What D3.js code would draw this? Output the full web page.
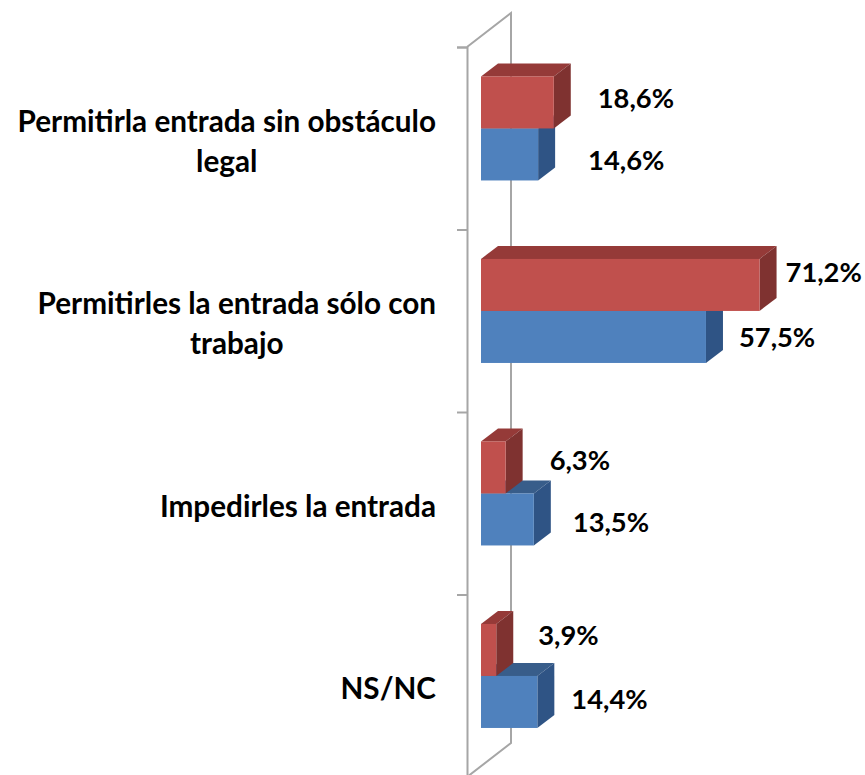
<!DOCTYPE html>
<html>
<head>
<meta charset="utf-8">
<script src="https://cdn.jsdelivr.net/npm/d3@7"></script>
<style>
  html, body { margin: 0; background: #fff; }
  text { font-family: Lato, "Open Sans", sans-serif; font-weight: bold; fill: #000; }
</style>
</head>
<body>
<div id="wrapper"></div>
<script>
const categories = [
  ["Permitirla entrada sin obstáculo", "legal"],
  ["Permitirles la entrada sólo con", "trabajo"],
  ["Impedirles la entrada"],
  ["NS/NC"]
]
const seriesNames = ["rojo", "azul"]
const rojoValues = [18.6, 71.2, 6.3, 3.9]
const azulValues = [14.6, 57.5, 13.5, 14.4]

async function drawBars() {
  // 1. data
  const rows = categories.map((lines, i) => ({
    i,
    lines,
    rojo: rojoValues[i],
    azul: azulValues[i]
  }))
  const formatValue = d => d.toFixed(1).replace(".", ",") + "%"

  // 2. dimensions
  const dimensions = {
    width: 865,
    height: 775,
    wallX: 467,
    wallTop: 47,
    wallBottom: 777,
    wallDepth: { x: 44, y: -34 },
    barInset: { x: 14, y: -9.8 },
    barDepth: { x: 17, y: -13 },
    labelRight: 436
  }

  // 3. canvas
  const svg = d3.select("#wrapper")
    .append("svg")
      .attr("width", dimensions.width)
      .attr("height", dimensions.height)
      .style("display", "block")

  // 4. scales
  const xScale = d3.scaleLinear()
    .domain([0, 80])
    .range([dimensions.wallX + dimensions.barInset.x, dimensions.wallX + dimensions.barInset.x + 313])

  const yEdges = d3.scaleLinear()
    .domain([0, categories.length])
    .range([dimensions.wallTop, dimensions.wallBottom])

  const yScale = d3.scaleBand()
    .domain(d3.range(categories.length))
    .range([dimensions.wallTop, dimensions.wallBottom])
    .paddingInner(0.43)
    .paddingOuter(0.215)

  const seriesScale = d3.scaleBand()
    .domain(seriesNames)
    .range([0, yScale.bandwidth()])

  // 5. wall and axis
  const wallColor = "#a6a6a6"
  const d = dimensions
  svg.append("path")
    .attr("fill", "none")
    .attr("stroke", wallColor)
    .attr("stroke-width", 2)
    .attr("d", d3.line()([
      [d.wallX, d.wallTop],
      [d.wallX + d.wallDepth.x, d.wallTop + d.wallDepth.y],
      [d.wallX + d.wallDepth.x, d.wallBottom + d.wallDepth.y],
      [d.wallX, d.wallBottom]
    ]))

  const yAxis = svg.append("g")
    .attr("transform", `translate(${d.wallX},0)`)
    .call(d3.axisLeft(yEdges).ticks(categories.length).tickSize(10).tickSizeOuter(10).tickFormat(""))
  yAxis.selectAll("path, line")
    .attr("stroke", wallColor)
    .attr("stroke-width", 2)

  // 6. bars
  const colors = {
    rojo: { front: "#c0504d", top: "#953a38", side: "#7f3230" },
    azul: { front: "#4f81bd", top: "#385d8a", side: "#2f5485" }
  }
  const dx = d.barDepth.x
  const dy = d.barDepth.y

  const boxFor = (row, name) => {
    const y0 = yScale(row.i) + seriesScale(name) + d.barInset.y
    return { x0: xScale(0), x1: xScale(row[name]), y0, y1: y0 + seriesScale.bandwidth() }
  }
  const topFace = b => d3.line()([
    [b.x0, b.y0], [b.x0 + dx, b.y0 + dy], [b.x1 + dx, b.y0 + dy], [b.x1, b.y0]
  ])
  const sideFace = b => d3.line()([
    [b.x1, b.y0], [b.x1 + dx, b.y0 + dy], [b.x1 + dx, b.y1 + dy], [b.x1, b.y1]
  ])

  const barGroups = svg.selectAll(".row")
    .data(rows)
    .join("g")
      .attr("class", "row")

  // the whole blue box first, the red one sits in front of it
  ;["azul", "rojo"].forEach(name => {
    barGroups.append("path")
      .attr("d", r => topFace(boxFor(r, name)) + "Z")
      .attr("fill", colors[name].top)
    barGroups.append("path")
      .attr("d", r => sideFace(boxFor(r, name)) + "Z")
      .attr("fill", colors[name].side)
    barGroups.append("rect")
      .attr("x", r => boxFor(r, name).x0)
      .attr("y", r => boxFor(r, name).y0)
      .attr("width", r => boxFor(r, name).x1 - boxFor(r, name).x0)
      .attr("height", seriesScale.bandwidth())
      .attr("fill", colors[name].front)
  })

  // 7. value labels, hand placed in the original
  const valueNudge = {
    rojo: [[44, -4], [26, -12], [44, -7], [42, -14]],
    azul: [[50, 6], [33, 0], [39, 3], [34, -3]]
  }
  seriesNames.forEach(name => {
    svg.append("g").selectAll("text")
      .data(rows)
      .join("text")
        .attr("x", r => xScale(r[name]) + valueNudge[name][r.i][0])
        .attr("y", r => {
          const b = boxFor(r, name)
          return (b.y0 + b.y1) / 2 + valueNudge[name][r.i][1]
        })
        .attr("dy", "0.35em")
        .style("font-size", "27.3px")
        .text(r => formatValue(r[name]))
  })

  // 8. category labels, centred on their longest line
  const lineHeight = 40
  const catLabels = svg.append("g").selectAll("text")
    .data(rows)
    .join("text")
      .style("font-size", "29.7px")
      .attr("text-anchor", "middle")

  catLabels.selectAll("tspan")
    .data(r => r.lines.map((line, n) => ({ r, line, n })))
    .join("tspan")
      .text(t => t.line)
      .attr("y", t => yScale(t.r.i) + yScale.bandwidth() / 2
        + 3 + (t.n - (t.r.lines.length - 1) / 2) * lineHeight)
      .attr("dy", "0.35em")

  catLabels.each(function() {
    const w = d3.max(d3.select(this).selectAll("tspan").nodes(), n => n.getComputedTextLength())
    d3.select(this).selectAll("tspan").attr("x", d.labelRight - w / 2)
  })
}

drawBars()
</script>
</body>
</html>
